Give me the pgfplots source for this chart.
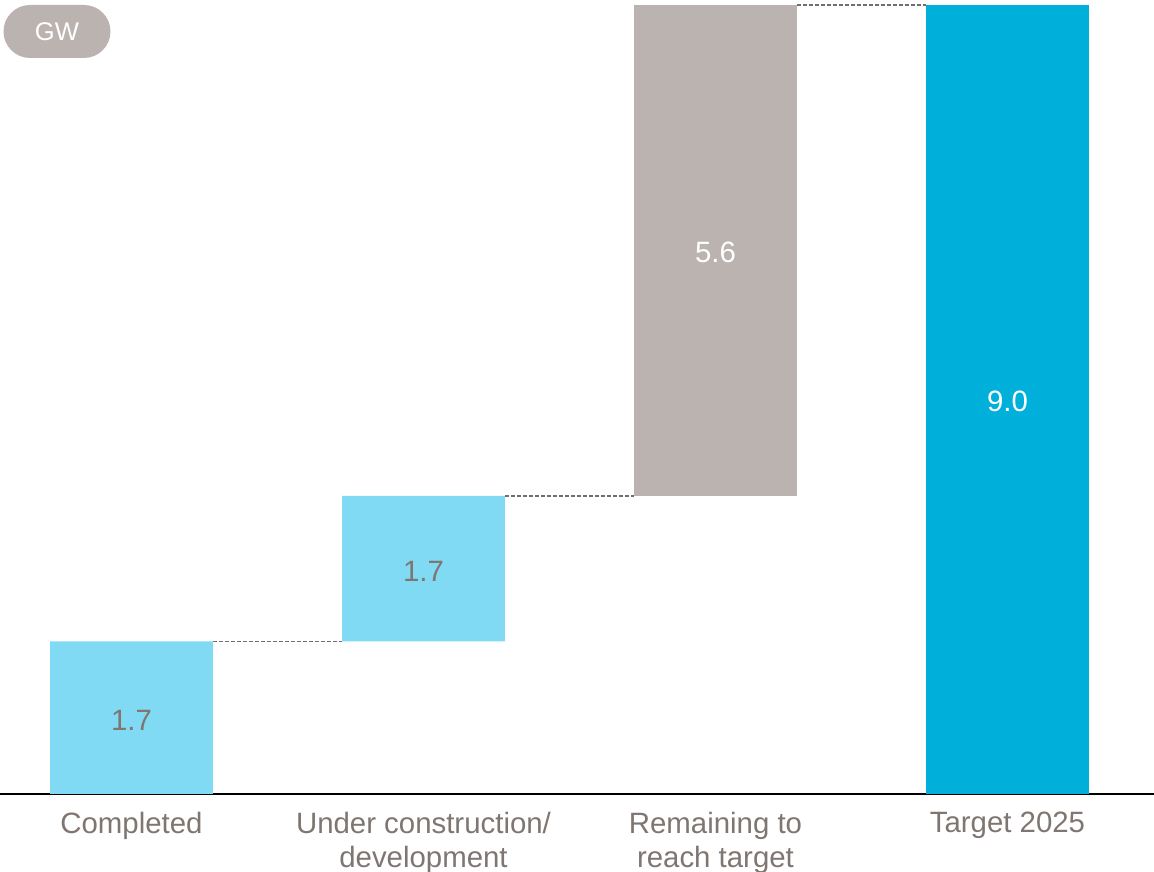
\documentclass[border=0pt]{standalone}
\usepackage{pgfplots}
\pgfplotsset{compat=1.18}
\usepackage{pgfplotstable}
\usepackage{fontspec}
\setmainfont{Liberation Sans}
\definecolor{lblue}{HTML}{80DAF3}
\definecolor{dblue}{HTML}{00B0DB}
\definecolor{tgray}{HTML}{BAB3B0}
\definecolor{txt}{HTML}{7F7672}
\definecolor{dashc}{HTML}{6F6F6F}

\pgfplotstableread{
x base light gray dark
0 0 1.74 0 0
1 1.74 1.66 0 0
2 3.40 0 5.6 0
3 0 0 0 9.0
}\bars

\pgfplotstableread{
x y lab
0 0.84 1.7
1 2.54 1.7
}\lablight

\pgfplotstableread{
x y lab
2 6.18 5.6
3 4.48 9.0
}\labdark

\pgfplotsset{common/.style={width=577pt,height=397pt,scale only axis,
  xmin=-0.4503,xmax=3.5017,ymin=0,ymax=9.057,clip=false}}

\begin{document}
\begin{tikzpicture}
\begin{axis}[common, ybar stacked, bar width=0.558,
  axis x line=bottom, axis y line=none,
  x axis line style={-, black, line width=0.75pt},
  xtick={0,1,2,3},
  xticklabels={Completed,{Under construction/\\development},{Remaining to\\reach target},Target 2025},
  major tick length=0pt,
  xticklabel style={anchor=north, inner sep=0pt, yshift=-8.8pt, align=center,
    text=txt, font=\fontsize{14.7}{17}\selectfont},
  ]
\addplot[draw=none, fill=none] table[x=x,y=base]{\bars};
\addplot[draw=none, fill=lblue] table[x=x,y=light]{\bars};
\addplot[draw=none, fill=tgray] table[x=x,y=gray]{\bars};
\addplot[draw=none, fill=dblue] table[x=x,y=dark]{\bars};
\end{axis}
\begin{axis}[common, hide axis]
\addplot[dashc, line width=0.6pt, dash pattern=on 2pt off 1pt] coordinates {(0.279,1.74) (0.721,1.74)};
\addplot[dashc, line width=0.6pt, dash pattern=on 2pt off 1pt] coordinates {(1.279,3.40) (1.721,3.40)};
\addplot[dashc, line width=0.6pt, dash pattern=on 2pt off 1pt] coordinates {(2.279,9.0) (2.721,9.0)};
\addplot[draw=none, mark=none, nodes near coords, point meta=explicit symbolic,
  every node near coord/.style={anchor=center, text=txt, font=\fontsize{14.7}{17}\selectfont}]
  table[x=x,y=y,meta=lab]{\lablight};
\addplot[draw=none, mark=none, nodes near coords, point meta=explicit symbolic,
  every node near coord/.style={anchor=center, text=white, font=\fontsize{14.7}{17}\selectfont}]
  table[x=x,y=y,meta=lab]{\labdark};
\end{axis}
\node[fill=tgray, rounded corners=13.25pt, minimum width=53.5pt, minimum height=26.5pt,
  text=white, font=\fontsize{12.8}{15}\selectfont, inner sep=0pt]
  at ([xshift=28.5pt, yshift=-15.75pt]current axis.north west) {GW};
\pgfresetboundingbox
\path[use as bounding box] ([yshift=-39pt]current axis.south west) rectangle (current axis.north east);
\end{tikzpicture}
\end{document}
